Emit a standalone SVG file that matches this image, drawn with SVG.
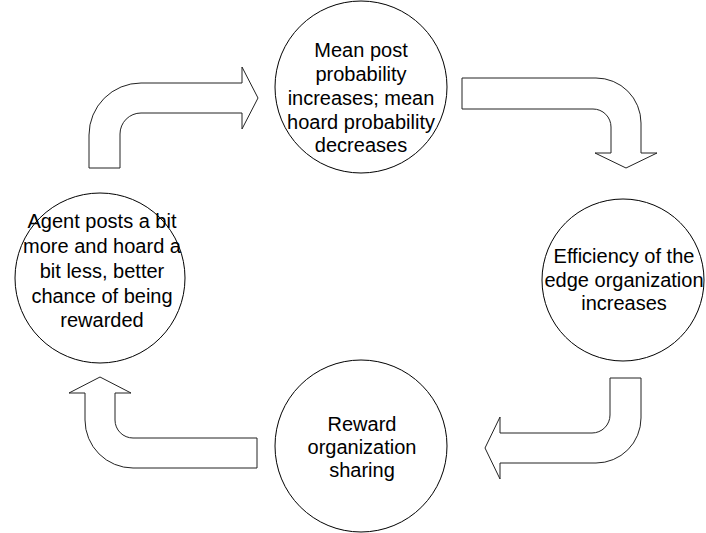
<svg xmlns="http://www.w3.org/2000/svg" width="706" height="533" viewBox="0 0 706 533">
<style>
.node circle{fill:#fff;stroke:#000;stroke-width:1}
.arrow{fill:#fff;stroke:#222;stroke-width:1;stroke-linejoin:miter}
text{font-family:"Liberation Sans",Arial,sans-serif;font-size:20px;fill:#000;text-anchor:middle}
</style>
<rect width="706" height="533" fill="#fff"/>
<g id="connectors">
<path class="arrow" d="M 89 168 L 89 135 A 52 52 0 0 1 141 83 L 242 83 L 242 67 L 258 98 L 242 129 L 242 113 L 141 113 A 21 21 0 0 0 120 134 L 120 168 Z"/>
<path class="arrow" d="M 462 78 L 596 78 A 45 45 0 0 1 641 123 L 641 153 L 657 153 L 626 168 L 595 153 L 611 153 L 611 127 A 18 18 0 0 0 593 109 L 462 109 Z"/>
<path class="arrow" d="M 610 378 L 641 378 L 641 418 A 45 45 0 0 1 596 463 L 500 463 L 500 479 L 485 448 L 500 417 L 500 433 L 592 433 A 18 18 0 0 0 610 415 Z"/>
<path class="arrow" d="M 257 438 L 257 468 L 133 468 A 48 48 0 0 1 85 420 L 85 393 L 69 393 L 100 377 L 131 393 L 115 393 L 115 420 A 18 18 0 0 0 133 438 Z"/>
</g>
<g id="node-top" class="node">
<circle cx="361" cy="87" r="86"/>
<text x="361" y="57">Mean post</text>
<text x="361" y="81">probability</text>
<text x="361" y="105">increases; mean</text>
<text x="361" y="129">hoard probability</text>
<text x="361" y="152">decreases</text>
</g>
<g id="node-right" class="node">
<circle cx="623" cy="280" r="81"/>
<text x="624" y="263">Efficiency of the</text>
<text x="624" y="287">edge organization</text>
<text x="624" y="310">increases</text>
</g>
<g id="node-bottom" class="node">
<circle cx="361" cy="446" r="86"/>
<text x="362" y="431">Reward</text>
<text x="362" y="454">organization</text>
<text x="362" y="477">sharing</text>
</g>
<g id="node-left" class="node">
<circle cx="100" cy="278" r="85"/>
<text x="102" y="228">Agent posts a bit</text>
<text x="102" y="253">more and hoard a</text>
<text x="102" y="278">bit less, better</text>
<text x="102" y="303">chance of being</text>
<text x="102" y="327">rewarded</text>
</g>
</svg>
